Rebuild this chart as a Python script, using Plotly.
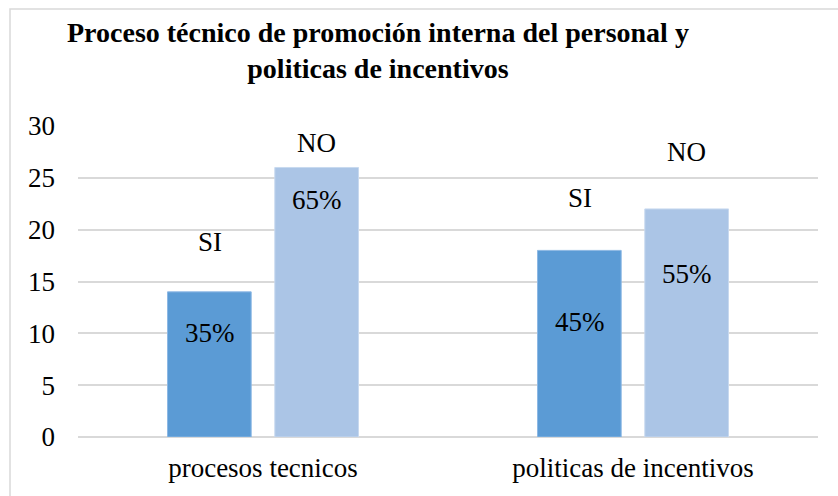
import plotly.graph_objects as go

categories = ["procesos tecnicos", "politicas de incentivos"]
si_values = [14, 18]
no_values = [26, 22]
si_pct = ["35%", "45%"]
no_pct = ["65%", "55%"]
series_names = ["SI", "NO"]
y_ticks = [0, 5, 10, 15, 20, 25, 30]

# label offsets (data units) relative to bar tops
name_off_si = [4.8, 5.1]
name_off_no = [2.35, 5.5]
pct_off_si = [-4.0, -6.9]
pct_off_no = [-3.15, -6.3]

SI_COLOR = "#5B9BD5"
NO_COLOR = "#ABC5E6"
FONT = "Times New Roman, Liberation Serif, serif"
TXT = 27

fig = go.Figure()
fig.add_trace(go.Bar(x=categories, y=si_values, name=series_names[0],
                     marker=dict(color=SI_COLOR, line=dict(color="#8DB8E4", width=1))))
fig.add_trace(go.Bar(x=categories, y=no_values, name=series_names[1],
                     marker=dict(color=NO_COLOR, line=dict(color="#C8D9EF", width=1))))

ann = []
for i, c in enumerate(categories):
    for off_idx, (vals, noff, poff, pcts, nm) in enumerate([
        (si_values, name_off_si, pct_off_si, si_pct, series_names[0]),
        (no_values, name_off_no, pct_off_no, no_pct, series_names[1]),
    ]):
        xs = -0.5 if off_idx == 0 else 0.5
        ann.append(dict(x=c, y=vals[i] + noff[i], text=nm, showarrow=False,
                        xshift=xs * 107, font=dict(family=FONT, size=TXT, color="#000000")))
        ann.append(dict(x=c, y=vals[i] + poff[i], text=pcts[i], showarrow=False,
                        xshift=xs * 107, font=dict(family=FONT, size=TXT, color="#000000")))

ann.append(dict(xref="paper", yref="paper", x=(378 - 78) / 740, y=(437 - 51) / 311,
                text="<b>Proceso técnico de promoción interna del personal y<br>politicas de incentivos</b>",
                showarrow=False, align="center", xanchor="center", yanchor="middle",
                font=dict(family=FONT, size=28, color="#000000")))

fig.update_layout(
    width=838, height=496,
    margin=dict(l=78, r=20, t=126, b=59, autoexpand=False),
    paper_bgcolor="white", plot_bgcolor="white",
    barmode="group", bargap=0.42, bargroupgap=0.22,
    showlegend=False,
    annotations=ann,
    font=dict(family=FONT, size=TXT, color="#000000"),
    shapes=[dict(type="rect", xref="paper", yref="paper",
                 x0=(10 - 78) / 740, x1=(845 - 78) / 740,
                 y0=(437 - 500) / 311, y1=(437 - 9) / 311,
                 line=dict(color="#D9D9D9", width=1.5), fillcolor="rgba(0,0,0,0)", layer="below")],
)
fig.update_yaxes(range=[0, 30], tickvals=y_ticks, showgrid=True, gridcolor="#D9D9D9", gridwidth=1.5,
                 zeroline=True, zerolinecolor="#D9D9D9", zerolinewidth=1.5, automargin=False,
                 ticklabelstandoff=22, tickfont=dict(family=FONT, size=TXT, color="#000000"))
fig.update_xaxes(showline=False, automargin=False, tickfont=dict(family=FONT, size=TXT, color="#000000"),
                 ticklabelstandoff=12)

fig.write_html("out.html", config={"displayModeBar": False},
               post_script="document.body.style.margin='0';document.body.style.padding='0';")
